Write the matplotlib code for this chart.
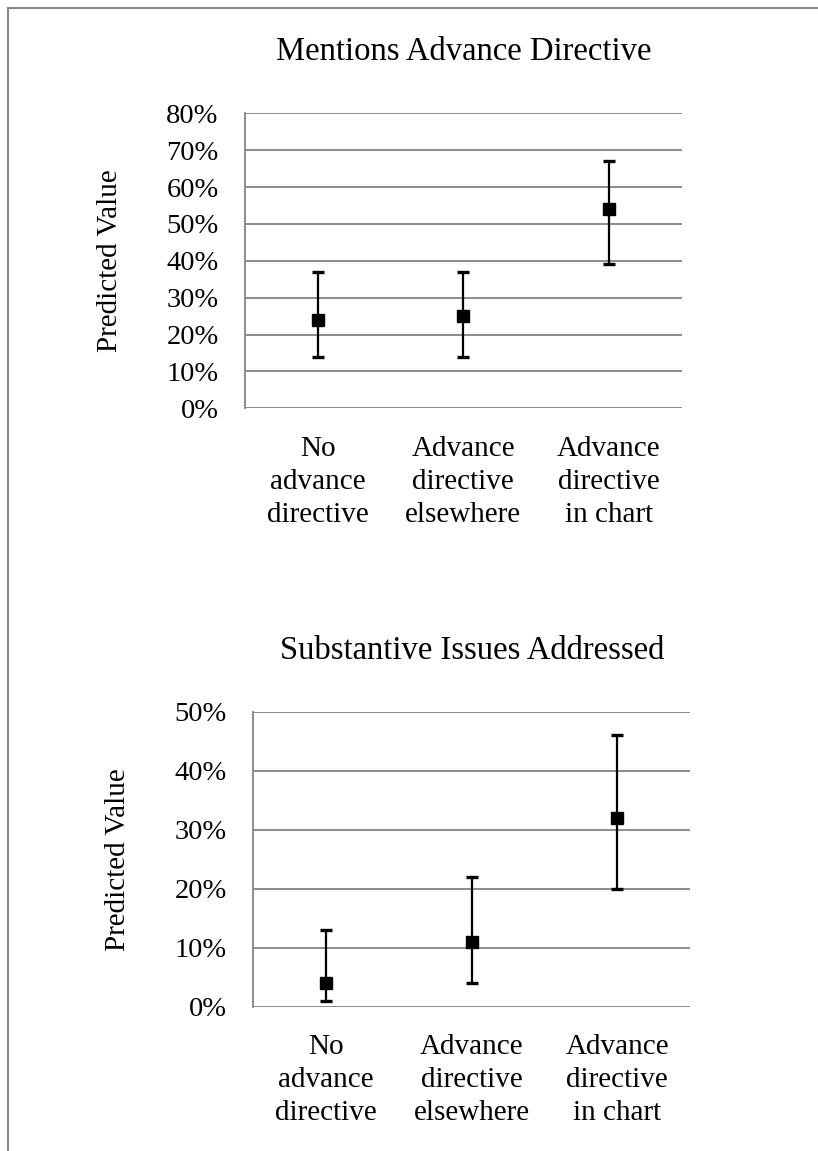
import matplotlib.pyplot as plt
from matplotlib.patches import Rectangle
from matplotlib.ticker import PercentFormatter

plt.rcParams['font.family'] = ['Liberation Serif', 'DejaVu Serif']

categories = ['No\nadvance\ndirective', 'Advance\ndirective\nelsewhere', 'Advance\ndirective\nin chart']

# predicted values with lower/upper bounds, in percent
mentions = [24, 25, 54]
mentions_lo = [14, 14, 39]
mentions_hi = [37, 37, 67]

issues = [4, 11, 32]
issues_lo = [1, 4, 20]
issues_hi = [13, 22, 46]

panels = [
    ('Mentions Advance Directive', mentions, mentions_lo, mentions_hi, 80, [0.2995, 0.6453, 0.5339, 0.2563]),
    ('Substantive Issues Addressed', issues, issues_lo, issues_hi, 50, [0.3097, 0.1254, 0.5339, 0.2563]),
]

fig = plt.figure(figsize=(8.18, 11.51), dpi=100)
grid = '#8c8c8c'

for title, vals, lo, hi, ymax, rect in panels:
    ax = fig.add_axes(rect)
    x = range(len(vals))
    err = [[v - l for v, l in zip(vals, lo)], [h - v for v, h in zip(vals, hi)]]
    ax.errorbar(x, vals, yerr=err, fmt='s', color='black', ms=8.5,
                elinewidth=1.6, capsize=4.5, capthick=2.4, zorder=3)
    ax.set_xlim(-0.5, len(vals) - 0.5)
    ax.set_ylim(0, ymax)
    ax.set_yticks(range(0, ymax + 1, 10))
    ax.yaxis.set_major_formatter(PercentFormatter(decimals=0))
    ax.grid(axis='y', color=grid, linewidth=1.4)
    ax.set_axisbelow(True)
    for s in ['top', 'right', 'bottom']:
        ax.spines[s].set_visible(False)
    ax.spines['left'].set_color(grid)
    ax.spines['left'].set_linewidth(1.4)
    ax.set_xticks(list(x))
    ax.set_xticklabels(categories, fontsize=21, linespacing=1.35)
    ax.tick_params(axis='x', length=0, pad=20)
    ax.tick_params(axis='y', length=0, pad=19, labelsize=20.5)
    ax.set_ylabel('Predicted Value', fontsize=21)
    ax.yaxis.set_label_coords(-0.279, 0.5)
    ax.set_title(title, fontsize=23.5, pad=38)

# frame line along the top and left of the page
fig.patches.append(Rectangle((8 / 818, -0.1), 1.2, 1 - 8 / 1151 + 0.1,
                             transform=fig.transFigure, fill=False,
                             edgecolor='#8a8a8a', linewidth=1.5))

fig.savefig('out.png', dpi=100)
